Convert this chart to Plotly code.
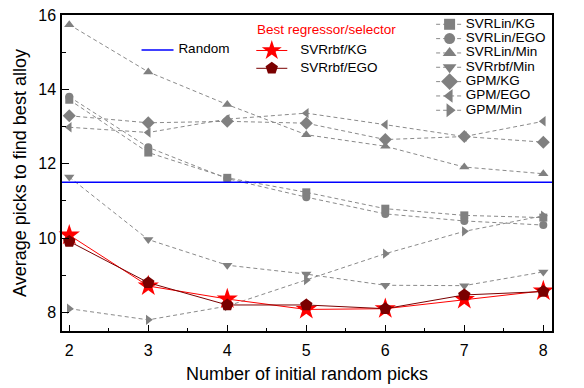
import plotly.graph_objects as go

# ---------------- data ----------------
initial_picks = [2, 3, 4, 5, 6, 7, 8]

svrlin_kg  = [13.72, 12.30, 11.62, 11.23, 10.79, 10.61, 10.55]
svrlin_ego = [13.80, 12.44, 11.60, 11.10, 10.65, 10.46, 10.35]
svrlin_min = [15.74, 14.47, 13.59, 12.78, 12.47, 11.91, 11.73]
svrrbf_min = [11.64, 9.96, 9.27, 9.03, 8.73, 8.72, 9.09]
gpm_kg     = [13.29, 13.10, 13.14, 13.09, 12.65, 12.73, 12.58]
gpm_ego    = [12.98, 12.84, 13.20, 13.36, 13.05, 12.73, 13.14]
gpm_min    = [8.10, 7.80, 8.17, 8.87, 9.58, 10.18, 10.60]
svrrbf_kg  = [10.08, 8.71, 8.36, 8.08, 8.10, 8.35, 8.58]
svrrbf_ego = [9.91, 8.80, 8.20, 8.20, 8.10, 8.47, 8.56]

random_value = 11.5

gray_names = ["SVRLin/KG", "SVRLin/EGO", "SVRLin/Min", "SVRrbf/Min",
              "GPM/KG", "GPM/EGO", "GPM/Min"]
gray_values = [svrlin_kg, svrlin_ego, svrlin_min, svrrbf_min,
               gpm_kg, gpm_ego, gpm_min]
best_names = ["SVRrbf/KG", "SVRrbf/EGO"]
best_values = [svrrbf_kg, svrrbf_ego]

x_ticks = [2, 3, 4, 5, 6, 7, 8]
y_ticks = [8, 10, 12, 14, 16]

# ---------------- styles ----------------
FONT = "Liberation Sans, Arial, Helvetica, sans-serif"
GRAY = "#808080"
GRAY_LINE = "#8a8a8a"
DASH = "4px,3px"
gray_symbols = ["square", "circle", "triangle-up", "triangle-down",
                "diamond", "triangle-left", "triangle-right"]
gray_sizes = [8, 8, 9, 9, 10, 9, 9]
best_colors = ["#ff0000", "#7a0000"]
best_symbols = ["star", "pentagon"]
best_sizes = [16, 13]
best_leg_sizes = [15, 13]

fig = go.Figure()

for name, vals, sym, sz in zip(gray_names, gray_values, gray_symbols, gray_sizes):
    fig.add_trace(go.Scatter(
        x=initial_picks, y=vals, name=name, mode="lines+markers",
        line=dict(color=GRAY_LINE, width=1, dash=DASH),
        marker=dict(symbol=sym, size=sz, color=GRAY),
        showlegend=False, cliponaxis=False))

for name, vals, col, sym, sz in zip(best_names, best_values, best_colors, best_symbols, best_sizes):
    fig.add_trace(go.Scatter(
        x=initial_picks, y=vals, name=name, mode="lines+markers",
        line=dict(color=col, width=1),
        marker=dict(symbol=sym, size=sz, color=col),
        showlegend=False, cliponaxis=False))

# Random baseline across the full plot width
fig.add_shape(type="line", xref="x domain", yref="y", x0=0, x1=1,
              y0=random_value, y1=random_value,
              line=dict(color="#0000ff", width=1.6))

# ---------------- custom legends (hidden overlay axes, fraction units) ----------------
LEG_FONT = 13.5


def legend_text(x, y, text, color="black"):
    fig.add_trace(go.Scatter(x=[x], y=[y], mode="text", text=[text],
                             textposition="middle right",
                             textfont=dict(family=FONT, size=LEG_FONT, color=color),
                             xaxis="x2", yaxis="y2", showlegend=False, hoverinfo="skip",
                             cliponaxis=False))


LEG1_X0, LEG1_X1, LEG1_XM, LEG1_XT = 0.7635, 0.8186, 0.791, 0.8242
LEG1_Y0, LEG1_DY = 0.9706, 0.04535
for i, (name, sym, sz) in enumerate(zip(gray_names, gray_symbols, gray_sizes)):
    yy = LEG1_Y0 - i * LEG1_DY
    fig.add_trace(go.Scatter(x=[LEG1_X0, LEG1_X1], y=[yy, yy], mode="lines",
                             line=dict(color=GRAY_LINE, width=1, dash=DASH),
                             xaxis="x2", yaxis="y2", showlegend=False, hoverinfo="skip"))
    fig.add_trace(go.Scatter(x=[LEG1_XM], y=[yy], mode="markers",
                             marker=dict(symbol=sym, size=sz + 3, color=GRAY),
                             xaxis="x2", yaxis="y2", showlegend=False, hoverinfo="skip"))
    legend_text(LEG1_XT, yy, name)

# Random legend entry
RAND_X0, RAND_X1, RAND_XT, RAND_Y = 0.1623, 0.2276, 0.2375, 0.8892
fig.add_trace(go.Scatter(x=[RAND_X0, RAND_X1], y=[RAND_Y, RAND_Y], mode="lines",
                         line=dict(color="#0000ff", width=1.6),
                         xaxis="x2", yaxis="y2", showlegend=False, hoverinfo="skip"))
legend_text(RAND_XT, RAND_Y, "Random")

# Best regressor/selector legend
legend_text(0.398, 0.9503, "Best regressor/selector", color="#ff0000")
LEG2_X0, LEG2_X1, LEG2_XM, LEG2_XT = 0.3965, 0.4598, 0.4281, 0.4862
LEG2_Y = [0.8877, 0.8313]
for name, col, sym, sz, yy in zip(best_names, best_colors, best_symbols, best_leg_sizes, LEG2_Y):
    fig.add_trace(go.Scatter(x=[LEG2_X0, LEG2_X1], y=[yy, yy], mode="lines",
                             line=dict(color=col, width=1),
                             xaxis="x2", yaxis="y2", showlegend=False, hoverinfo="skip"))
    fig.add_trace(go.Scatter(x=[LEG2_XM], y=[yy], mode="markers",
                             marker=dict(symbol=sym, size=sz, color=col),
                             xaxis="x2", yaxis="y2", showlegend=False, hoverinfo="skip"))
    legend_text(LEG2_XT, yy, name)

fig.update_layout(
    width=584, height=388,
    margin=dict(l=61.5, r=32, t=15, b=57, autoexpand=False),
    paper_bgcolor="white", plot_bgcolor="white",
    font=dict(family=FONT, size=16, color="black"),
    xaxis=dict(range=[1.908, 8.11], tickvals=x_ticks, ticks="inside", ticklen=6,
               tickwidth=1, tickcolor="black", automargin=False, ticklabelstandoff=4,
               minor=dict(dtick=0.5, tick0=2, ticks="inside", ticklen=3, tickcolor="black"),
               showline=True, linecolor="black", linewidth=1.5, mirror=True,
               showgrid=False, zeroline=False,
               title=dict(text="Number of initial random picks", standoff=9,
                          font=dict(family=FONT, size=18)),
               tickfont=dict(family=FONT, size=16)),
    yaxis=dict(range=[7.5, 16.0], tickvals=y_ticks, ticks="inside", ticklen=7,
               tickwidth=1, tickcolor="black", automargin=False, ticklabelstandoff=1,
               minor=dict(dtick=1, tick0=8, ticks="inside", ticklen=4, tickcolor="black"),
               showline=True, linecolor="black", linewidth=1.5, mirror=True,
               showgrid=False, zeroline=False,
               title=dict(text="Average picks to find best alloy", standoff=7,
                          font=dict(family=FONT, size=18)),
               tickfont=dict(family=FONT, size=16)),
    xaxis2=dict(overlaying="x", range=[0, 1], visible=False, anchor="y2", automargin=False),
    yaxis2=dict(overlaying="y", range=[0, 1], visible=False, anchor="x2", automargin=False),
    showlegend=False,
)

fig.write_html("out.html", config={"displayModeBar": False},
               post_script="document.body.style.margin='0';document.body.style.padding='0';")
